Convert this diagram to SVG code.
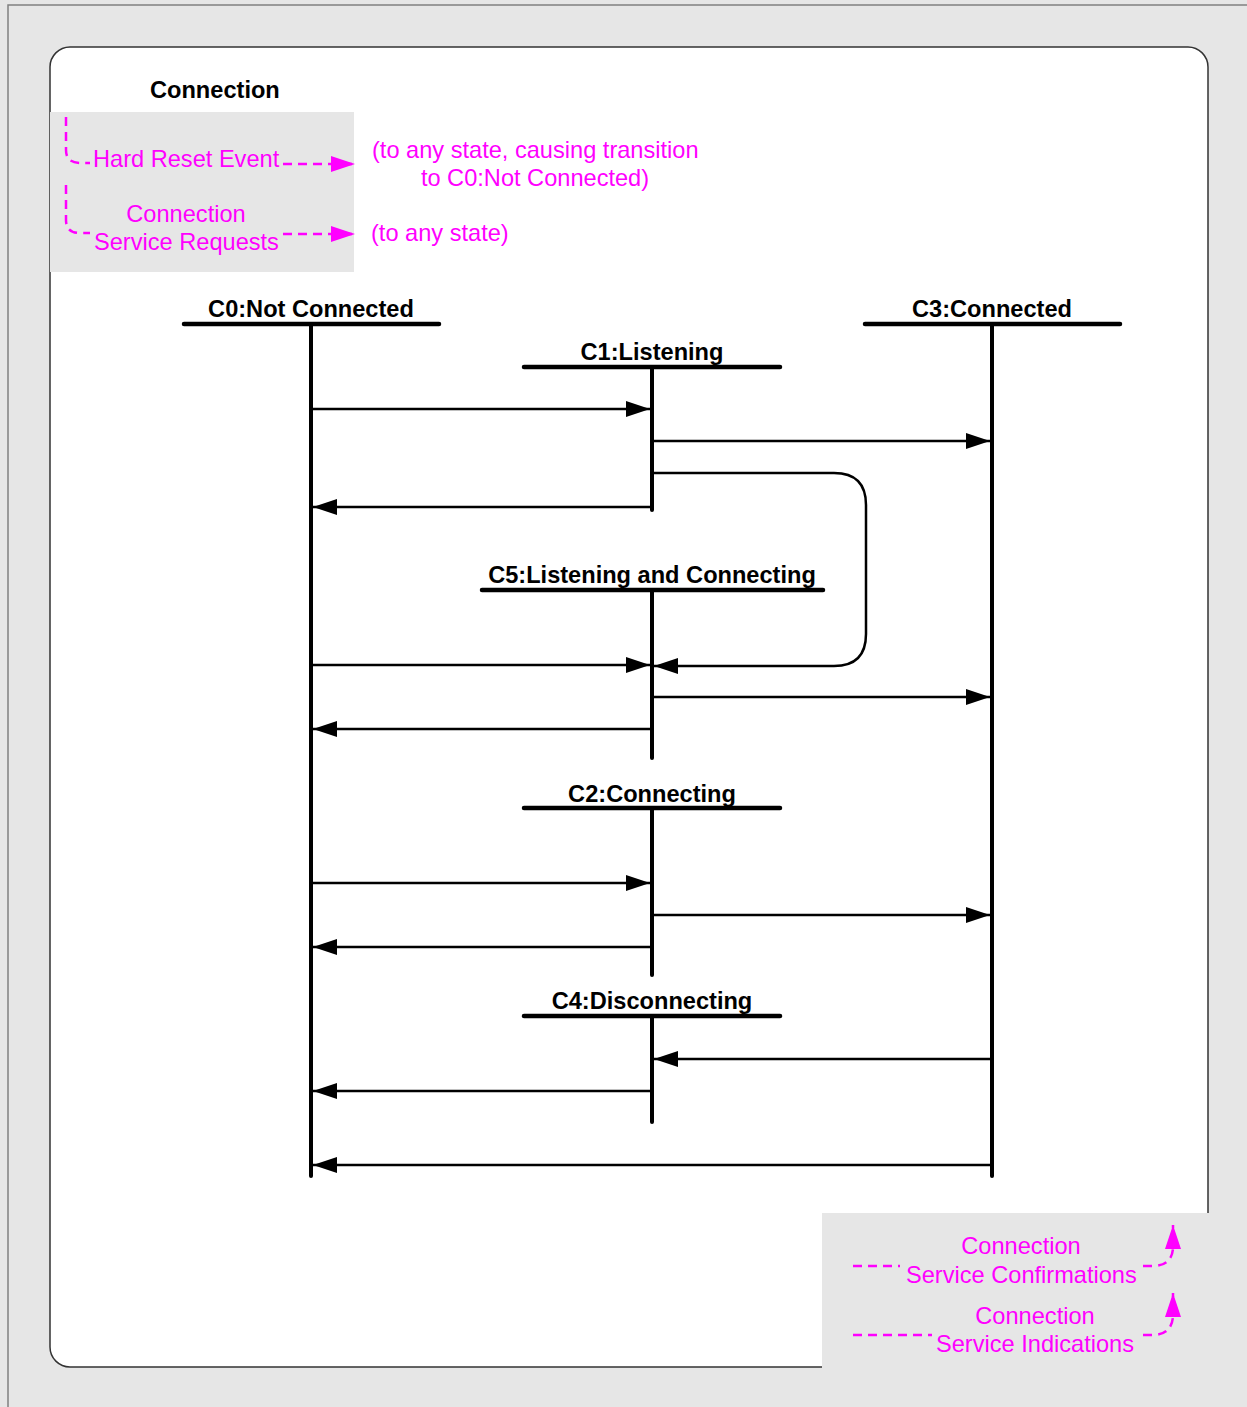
<svg xmlns="http://www.w3.org/2000/svg" width="1247" height="1407" viewBox="0 0 1247 1407">
  <style>
    .frame { fill: #e6e6e6; stroke: #808080; stroke-width: 1.5; }
    .panel { fill: #ffffff; stroke: #333333; stroke-width: 1.5; }
    .legend { fill: #e6e6e6; stroke: none; }
    .state { font-family: "Liberation Sans", Arial, sans-serif; font-size: 23.6px; font-weight: bold; fill: #000; text-anchor: middle; }
    .title { font-family: "Liberation Sans", Arial, sans-serif; font-size: 23.6px; font-weight: bold; fill: #000; }
    .note { font-family: "Liberation Sans", Arial, sans-serif; font-size: 23.6px; fill: #ff00ff; }
    .bar { stroke: #000; stroke-width: 4.5; stroke-linecap: round; fill: none; }
    .life { stroke: #000; stroke-width: 4; stroke-linecap: round; fill: none; }
    .msg { stroke: #000; stroke-width: 2.5; fill: none; marker-end: url(#head); }
    .dash { stroke: #ff00ff; stroke-width: 2.5; fill: none; stroke-dasharray: 9 6; }
  </style>
  <defs>
    <marker id="head" markerUnits="userSpaceOnUse" markerWidth="26" markerHeight="18" refX="24" refY="8" orient="auto" viewBox="0 0 26 18">
      <path d="M0,0 L24,8 L0,16 z" fill="#000"/>
    </marker>
    <marker id="mhead" markerUnits="userSpaceOnUse" markerWidth="26" markerHeight="18" refX="24" refY="8" orient="auto" viewBox="0 0 26 18">
      <path d="M0,0 L24,8 L0,16 z" fill="#ff00ff"/>
    </marker>
  </defs>

  <!-- background and frame -->
  <rect x="0" y="0" width="1247" height="1407" fill="#e6e6e6"/>
  <rect class="frame" x="8" y="5" width="1260" height="1420"/>
  <rect class="panel" x="50" y="47" width="1158" height="1320" rx="20" ry="20"/>
  <rect class="legend" x="50" y="112" width="304" height="160"/>
  <rect class="legend" x="822" y="1213" width="425" height="194"/>

  <text class="title" x="150" y="98">Connection</text>

  <!-- legend: inputs -->
  <g id="legend-inputs">
    <path class="dash" d="M66,117 L66,150 Q66,163 80,163 L90,163"/>
    <text class="note" x="93" y="167">Hard Reset Event</text>
    <line class="dash" x1="283" y1="164" x2="355" y2="164" marker-end="url(#mhead)"/>
    <text class="note" x="372" y="158">(to any state, causing transition</text>
    <text class="note" x="535" y="186" text-anchor="middle">to C0:Not Connected)</text>

    <path class="dash" d="M66,185 L66,220 Q66,233 80,233 L90,233"/>
    <text class="note" x="186" y="222" text-anchor="middle">Connection</text>
    <text class="note" x="94" y="250">Service Requests</text>
    <line class="dash" x1="283" y1="234" x2="355" y2="234" marker-end="url(#mhead)"/>
    <text class="note" x="371" y="241">(to any state)</text>
  </g>

  <!-- legend: outputs -->
  <g id="legend-outputs">
    <text class="note" x="1021" y="1254" text-anchor="middle">Connection</text>
    <text class="note" x="906" y="1283">Service Confirmations</text>
    <line class="dash" x1="853" y1="1266" x2="900" y2="1266"/>
    <path class="dash" d="M1143,1266 L1152,1266 Q1172,1266 1173,1248 L1173,1225" marker-end="url(#mhead)"/>

    <text class="note" x="1035" y="1324" text-anchor="middle">Connection</text>
    <text class="note" x="936" y="1352">Service Indications</text>
    <line class="dash" x1="853" y1="1335" x2="932" y2="1335"/>
    <path class="dash" d="M1143,1335 L1152,1335 Q1172,1335 1173,1316 L1173,1293" marker-end="url(#mhead)"/>
  </g>

  <!-- states -->
  <g id="C0">
    <text class="state" x="311" y="317">C0:Not Connected</text>
    <line class="bar" x1="184" y1="324" x2="439" y2="324"/>
    <line class="life" x1="311" y1="324" x2="311" y2="1176"/>
  </g>
  <g id="C3">
    <text class="state" x="992" y="317">C3:Connected</text>
    <line class="bar" x1="865" y1="324" x2="1120" y2="324"/>
    <line class="life" x1="992" y1="324" x2="992" y2="1176"/>
  </g>
  <g id="C1">
    <text class="state" x="652" y="360">C1:Listening</text>
    <line class="bar" x1="524" y1="367" x2="780" y2="367"/>
    <line class="life" x1="652" y1="367" x2="652" y2="510"/>
  </g>
  <g id="C5">
    <text class="state" x="652" y="583">C5:Listening and Connecting</text>
    <line class="bar" x1="482" y1="590" x2="823" y2="590"/>
    <line class="life" x1="652" y1="590" x2="652" y2="758"/>
  </g>
  <g id="C2">
    <text class="state" x="652" y="802">C2:Connecting</text>
    <line class="bar" x1="524" y1="808" x2="780" y2="808"/>
    <line class="life" x1="652" y1="808" x2="652" y2="975"/>
  </g>
  <g id="C4">
    <text class="state" x="652" y="1009">C4:Disconnecting</text>
    <line class="bar" x1="524" y1="1016" x2="780" y2="1016"/>
    <line class="life" x1="652" y1="1016" x2="652" y2="1122"/>
  </g>

  <!-- transitions -->
  <g id="transitions">
    <line class="msg" x1="313" y1="409" x2="650" y2="409"/>
    <line class="msg" x1="654" y1="441" x2="990" y2="441"/>
    <line class="msg" x1="650" y1="507" x2="313" y2="507"/>
    <path class="msg" d="M654,473 L834,473 Q866,473 866,505 L866,634 Q866,666 834,666 L654,666"/>
    <line class="msg" x1="313" y1="665" x2="650" y2="665"/>
    <line class="msg" x1="654" y1="697" x2="990" y2="697"/>
    <line class="msg" x1="650" y1="729" x2="313" y2="729"/>
    <line class="msg" x1="313" y1="883" x2="650" y2="883"/>
    <line class="msg" x1="654" y1="915" x2="990" y2="915"/>
    <line class="msg" x1="650" y1="947" x2="313" y2="947"/>
    <line class="msg" x1="990" y1="1059" x2="654" y2="1059"/>
    <line class="msg" x1="650" y1="1091" x2="313" y2="1091"/>
    <line class="msg" x1="990" y1="1165" x2="313" y2="1165"/>
  </g>
</svg>
